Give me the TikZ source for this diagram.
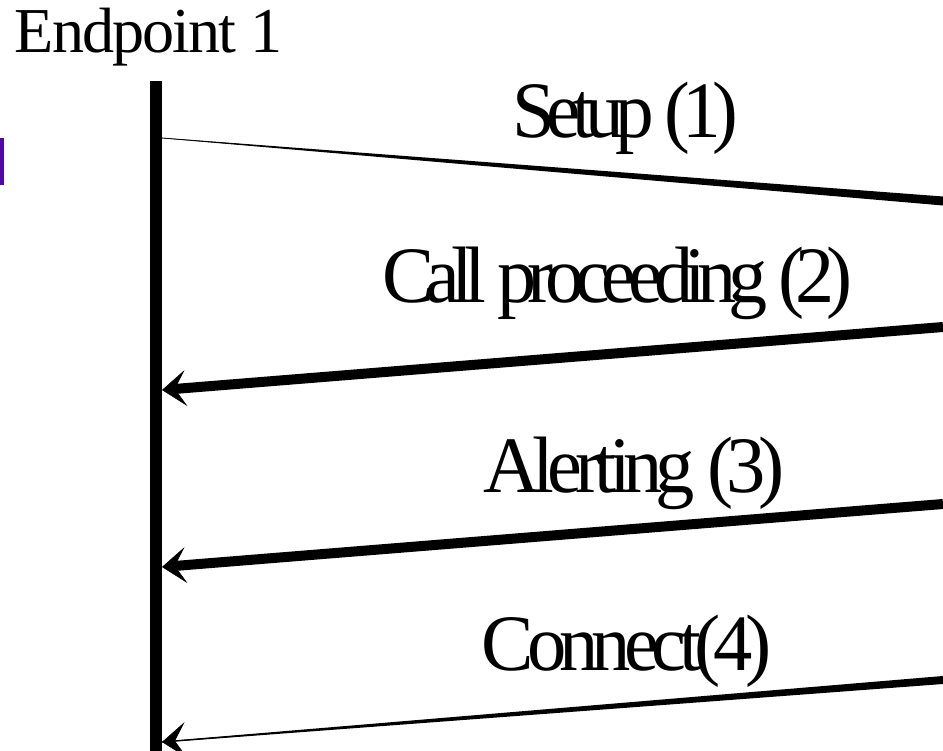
\documentclass[tikz,border=0pt]{standalone}
\usepackage{fontspec}
\setmainfont{Liberation Serif}
\usetikzlibrary{arrows.meta,calc}
\definecolor{barpurple}{RGB}{80,10,160}
\newfontfamily\lblfont[LetterSpace=-9]{Liberation Serif}
\newfontfamily\lbltightfont[LetterSpace=-11]{Liberation Serif}
\newfontfamily\epfont[LetterSpace=-3]{Liberation Serif}
\newcommand{\squeezetext}[2]{\resizebox{#1}{\height}{#2}}
\begin{document}
\begin{tikzpicture}[x=1pt,y=-1pt,
  lbl/.style={inner sep=0pt, anchor=base, font=\lblfont\fontsize{80}{80}\selectfont},
  lbltight/.style={lbl, font=\lbltightfont\fontsize{80}{80}\selectfont},
  msg/.style={line width=10pt},
  head/.style={-{Stealth[length=24pt,width=36pt,inset=11pt,line width=0.5pt]}},
  taper/.style={fill=black}
]
\useasboundingbox (0,0) rectangle (943,751);
\fill[barpurple] (0,138) rectangle (4,185);
\node[lbl, font=\epfont\fontsize{64}{64}\selectfont] (ep) at (149,53) {\squeezetext{268pt}{Endpoint 1}};
% lifeline
\coordinate (lt) at (156,81);
\coordinate (lb) at (156,751);
\draw[line width=12pt] (lt) -- (lb);
% Setup (1)
\coordinate (s1) at (162,138);
\coordinate (s2) at (943,201);
\fill[taper] ($(s1)+(0,-0.3)$) -- ($(s2)+(0,-4.5)$) -- ($(s2)+(0,4.5)$) -- ($(s1)+(0,0.3)$) -- cycle;
\draw[line width=0.6pt] (s1) -- (s2);
\node[lbltight] (l1) at (625,138) {\squeezetext{226pt}{Setup (1)}};
% Call proceeding (2)
\coordinate (c1) at (943,327);
\coordinate (c2) at (162,390);
\draw[msg, head] (c1) -- (c2);
\node[lbltight] (l2) at (617,303) {\squeezetext{470pt}{Call proceeding (2)}};
% Alerting (3)
\coordinate (a1) at (943,504);
\coordinate (a2) at (162,567);
\draw[msg, head] (a1) -- (a2);
\node[lbl] (l3) at (634,492) {\squeezetext{302pt}{Alerting (3)}};
% Connect (4)
\coordinate (k1) at (943,680);
\coordinate (k2) at (162,742);
\fill[taper] ($(k1)+(0,-4)$) -- ($(k2)+(0,-0.6)$) -- ($(k2)+(0,0.6)$) -- ($(k1)+(0,4)$) -- cycle;
\draw[line width=1pt, head] (k1) -- (k2);
\node[lbl] (l4) at (627,670) {\squeezetext{290pt}{Connect(4)}};
\end{tikzpicture}
\end{document}
